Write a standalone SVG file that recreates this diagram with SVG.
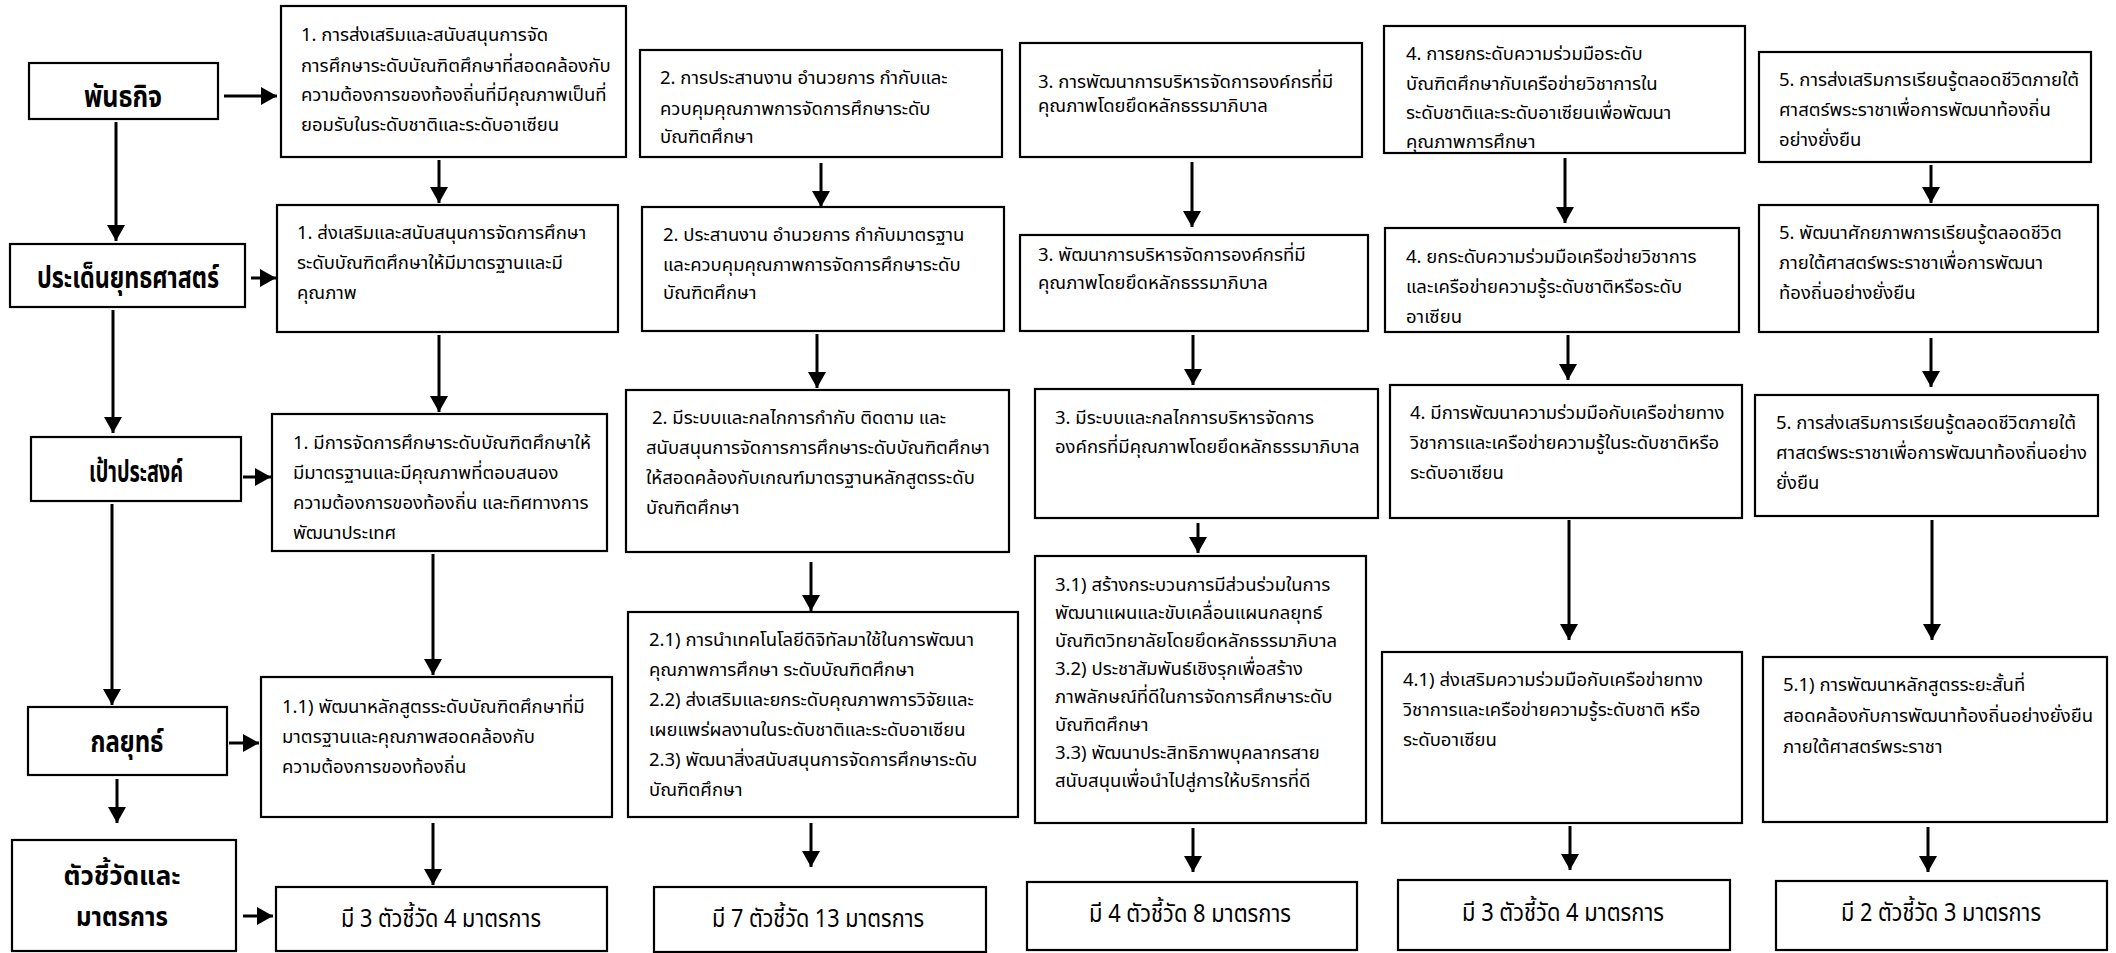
<svg xmlns="http://www.w3.org/2000/svg" width="2116" height="953" viewBox="0 0 2116 953">
<style>
.bg{fill:#fff}
.box{fill:#fff;stroke:#000;stroke-width:2.2}
.t{font-family:"Noto Sans Thai","Noto Sans Thai UI",Tahoma,Loma,Garuda,"Noto Sans","DejaVu Sans",sans-serif;font-size:18.5px;fill:#000}
.lbl{font-family:"Noto Sans Thai","Noto Sans Thai UI",Tahoma,Loma,Garuda,"Noto Sans","DejaVu Sans",sans-serif;font-size:30px;font-weight:bold;fill:#000;text-anchor:middle}
.lbl2{font-family:"Noto Sans Thai","Noto Sans Thai UI",Tahoma,Loma,Garuda,"Noto Sans","DejaVu Sans",sans-serif;font-size:27px;font-weight:bold;fill:#000;text-anchor:middle}
.k{font-family:"Noto Sans Thai","Noto Sans Thai UI",Tahoma,Loma,Garuda,"Noto Sans","DejaVu Sans",sans-serif;font-size:25px;fill:#000;text-anchor:middle}
.arr{stroke:#000;stroke-width:3;fill:none;marker-end:url(#ah)}
</style>
<defs>
<marker id="ah" viewBox="0 0 16 18" refX="16" refY="9" markerWidth="16" markerHeight="18" markerUnits="userSpaceOnUse" orient="auto">
<path d="M0,0 L16,9 L0,18 z" fill="#000"/>
</marker>
</defs>
<rect class="bg" x="0" y="0" width="2116" height="953"/>

<g id="connectors">
<line class="arr" x1="224" y1="96" x2="277" y2="96"/>
<line class="arr" x1="116" y1="122" x2="116" y2="241"/>
<line class="arr" x1="251" y1="278" x2="276" y2="278"/>
<line class="arr" x1="113" y1="310" x2="113" y2="433"/>
<line class="arr" x1="243" y1="477" x2="271" y2="477"/>
<line class="arr" x1="112" y1="504" x2="112" y2="705"/>
<line class="arr" x1="229" y1="743" x2="259" y2="743"/>
<line class="arr" x1="117" y1="779" x2="117" y2="823"/>
<line class="arr" x1="243" y1="916" x2="273" y2="916"/>

<line class="arr" x1="439" y1="160" x2="439" y2="203"/>
<line class="arr" x1="439" y1="335" x2="439" y2="412"/>
<line class="arr" x1="433" y1="554" x2="433" y2="675"/>
<line class="arr" x1="433" y1="823" x2="433" y2="885"/>

<line class="arr" x1="821" y1="163" x2="821" y2="207"/>
<line class="arr" x1="817" y1="334" x2="817" y2="388"/>
<line class="arr" x1="811" y1="562" x2="811" y2="611"/>
<line class="arr" x1="811" y1="823" x2="811" y2="867"/>

<line class="arr" x1="1192" y1="162" x2="1192" y2="227"/>
<line class="arr" x1="1193" y1="335" x2="1193" y2="385"/>
<line class="arr" x1="1198" y1="523" x2="1198" y2="553"/>
<line class="arr" x1="1193" y1="828" x2="1193" y2="872"/>

<line class="arr" x1="1565" y1="158" x2="1565" y2="223"/>
<line class="arr" x1="1568" y1="335" x2="1568" y2="380"/>
<line class="arr" x1="1569" y1="520" x2="1569" y2="640"/>
<line class="arr" x1="1570" y1="826" x2="1570" y2="870"/>

<line class="arr" x1="1931" y1="165" x2="1931" y2="203"/>
<line class="arr" x1="1931" y1="338" x2="1931" y2="387"/>
<line class="arr" x1="1932" y1="520" x2="1932" y2="640"/>
<line class="arr" x1="1928" y1="827" x2="1928" y2="872"/>
</g>

<g id="lbl-mission"><rect class="box" x="29" y="63" width="189" height="56"/><text class="lbl" x="123" y="107" textLength="78" lengthAdjust="spacingAndGlyphs">พันธกิจ</text></g>
<g id="lbl-issue"><rect class="box" x="10" y="244" width="235" height="63"/><text class="lbl" x="128" y="288" textLength="182" lengthAdjust="spacingAndGlyphs">ประเด็นยุทธศาสตร์</text></g>
<g id="lbl-goal"><rect class="box" x="31" y="437" width="210" height="64"/><text class="lbl" x="136" y="482" textLength="94" lengthAdjust="spacingAndGlyphs">เป้าประสงค์</text></g>
<g id="lbl-strategy"><rect class="box" x="28" y="707" width="199" height="68"/><text class="lbl" x="127" y="752" textLength="73" lengthAdjust="spacingAndGlyphs">กลยุทธ์</text></g>
<g id="lbl-kpi"><rect class="box" x="12" y="840" width="224" height="111"/><text class="lbl2" x="122" y="885" textLength="117" lengthAdjust="spacingAndGlyphs">ตัวชี้วัดและ</text><text class="lbl2" x="122" y="926" textLength="92" lengthAdjust="spacingAndGlyphs">มาตรการ</text></g>

<g id="m1"><rect class="box" x="281" y="6" width="345" height="151"/>
<text class="t" x="301" y="41">1. การส่งเสริมและสนับสนุนการจัด</text>
<text class="t" x="301" y="72">การศึกษาระดับบัณฑิตศึกษาที่สอดคล้องกับ</text>
<text class="t" x="301" y="101">ความต้องการของท้องถิ่นที่มีคุณภาพเป็นที่</text>
<text class="t" x="301" y="131">ยอมรับในระดับชาติและระดับอาเซียน</text></g>
<g id="s1"><rect class="box" x="277" y="205" width="341" height="127"/>
<text class="t" x="297" y="239">1. ส่งเสริมและสนับสนุนการจัดการศึกษา</text>
<text class="t" x="297" y="269">ระดับบัณฑิตศึกษาให้มีมาตรฐานและมี</text>
<text class="t" x="297" y="299">คุณภาพ</text></g>
<g id="g1"><rect class="box" x="272" y="414" width="335" height="137"/>
<text class="t" x="293" y="449">1. มีการจัดการศึกษาระดับบัณฑิตศึกษาให้</text>
<text class="t" x="293" y="479">มีมาตรฐานและมีคุณภาพที่ตอบสนอง</text>
<text class="t" x="293" y="509">ความต้องการของท้องถิ่น และทิศทางการ</text>
<text class="t" x="293" y="539">พัฒนาประเทศ</text></g>
<g id="t1"><rect class="box" x="261" y="677" width="351" height="140"/>
<text class="t" x="282" y="713">1.1) พัฒนาหลักสูตรระดับบัณฑิตศึกษาที่มี</text>
<text class="t" x="282" y="743">มาตรฐานและคุณภาพสอดคล้องกับ</text>
<text class="t" x="282" y="773">ความต้องการของท้องถิ่น</text></g>
<g id="k1"><rect class="box" x="276" y="887" width="331" height="64"/>
<text class="k" x="441" y="927" textLength="200" lengthAdjust="spacingAndGlyphs">มี 3 ตัวชี้วัด 4 มาตรการ</text></g>

<g id="m2"><rect class="box" x="640" y="50" width="362" height="107"/>
<text class="t" x="660" y="84">2. การประสานงาน อำนวยการ กำกับและ</text>
<text class="t" x="660" y="115">ควบคุมคุณภาพการจัดการศึกษาระดับ</text>
<text class="t" x="660" y="143">บัณฑิตศึกษา</text></g>
<g id="s2"><rect class="box" x="642" y="207" width="362" height="124"/>
<text class="t" x="663" y="241">2. ประสานงาน อำนวยการ กำกับมาตรฐาน</text>
<text class="t" x="663" y="271">และควบคุมคุณภาพการจัดการศึกษาระดับ</text>
<text class="t" x="663" y="299">บัณฑิตศึกษา</text></g>
<g id="g2"><rect class="box" x="626" y="390" width="383" height="162"/>
<text class="t" x="652" y="424">2. มีระบบและกลไกการกำกับ ติดตาม และ</text>
<text class="t" x="646" y="454">สนับสนุนการจัดการการศึกษาระดับบัณฑิตศึกษา</text>
<text class="t" x="646" y="484">ให้สอดคล้องกับเกณฑ์มาตรฐานหลักสูตรระดับ</text>
<text class="t" x="646" y="514">บัณฑิตศึกษา</text></g>
<g id="t2"><rect class="box" x="628" y="612" width="390" height="205"/>
<text class="t" x="649" y="646">2.1) การนำเทคโนโลยีดิจิทัลมาใช้ในการพัฒนา</text>
<text class="t" x="649" y="676">คุณภาพการศึกษา ระดับบัณฑิตศึกษา</text>
<text class="t" x="649" y="706">2.2) ส่งเสริมและยกระดับคุณภาพการวิจัยและ</text>
<text class="t" x="649" y="736">เผยแพร่ผลงานในระดับชาติและระดับอาเซียน</text>
<text class="t" x="649" y="766">2.3) พัฒนาสิ่งสนับสนุนการจัดการศึกษาระดับ</text>
<text class="t" x="649" y="796">บัณฑิตศึกษา</text></g>
<g id="k2"><rect class="box" x="654" y="887" width="332" height="65"/>
<text class="k" x="818" y="927" textLength="212" lengthAdjust="spacingAndGlyphs">มี 7 ตัวชี้วัด 13 มาตรการ</text></g>

<g id="m3"><rect class="box" x="1020" y="43" width="342" height="114"/>
<text class="t" x="1038" y="88">3. การพัฒนาการบริหารจัดการองค์กรที่มี</text>
<text class="t" x="1038" y="112">คุณภาพโดยยึดหลักธรรมาภิบาล</text></g>
<g id="s3"><rect class="box" x="1020" y="235" width="348" height="96"/>
<text class="t" x="1038" y="261">3. พัฒนาการบริหารจัดการองค์กรที่มี</text>
<text class="t" x="1038" y="289">คุณภาพโดยยึดหลักธรรมาภิบาล</text></g>
<g id="g3"><rect class="box" x="1035" y="389" width="343" height="129"/>
<text class="t" x="1055" y="424">3. มีระบบและกลไกการบริหารจัดการ</text>
<text class="t" x="1055" y="453">องค์กรที่มีคุณภาพโดยยึดหลักธรรมาภิบาล</text></g>
<g id="t3"><rect class="box" x="1035" y="556" width="331" height="267"/>
<text class="t" x="1055" y="591">3.1) สร้างกระบวนการมีส่วนร่วมในการ</text>
<text class="t" x="1055" y="619">พัฒนาแผนและขับเคลื่อนแผนกลยุทธ์</text>
<text class="t" x="1055" y="647">บัณฑิตวิทยาลัยโดยยึดหลักธรรมาภิบาล</text>
<text class="t" x="1055" y="675">3.2) ประชาสัมพันธ์เชิงรุกเพื่อสร้าง</text>
<text class="t" x="1055" y="703">ภาพลักษณ์ที่ดีในการจัดการศึกษาระดับ</text>
<text class="t" x="1055" y="731">บัณฑิตศึกษา</text>
<text class="t" x="1055" y="759">3.3) พัฒนาประสิทธิภาพบุคลากรสาย</text>
<text class="t" x="1055" y="787">สนับสนุนเพื่อนำไปสู่การให้บริการที่ดี</text></g>
<g id="k3"><rect class="box" x="1027" y="882" width="330" height="68"/>
<text class="k" x="1190" y="922" textLength="202" lengthAdjust="spacingAndGlyphs">มี 4 ตัวชี้วัด 8 มาตรการ</text></g>

<g id="m4"><rect class="box" x="1384" y="26" width="361" height="127"/>
<text class="t" x="1406" y="60">4. การยกระดับความร่วมมือระดับ</text>
<text class="t" x="1406" y="90">บัณฑิตศึกษากับเครือข่ายวิชาการใน</text>
<text class="t" x="1406" y="119">ระดับชาติและระดับอาเซียนเพื่อพัฒนา</text>
<text class="t" x="1406" y="148">คุณภาพการศึกษา</text></g>
<g id="s4"><rect class="box" x="1385" y="228" width="354" height="104"/>
<text class="t" x="1406" y="263">4. ยกระดับความร่วมมือเครือข่ายวิชาการ</text>
<text class="t" x="1406" y="293">และเครือข่ายความรู้ระดับชาติหรือระดับ</text>
<text class="t" x="1406" y="323">อาเซียน</text></g>
<g id="g4"><rect class="box" x="1390" y="385" width="352" height="133"/>
<text class="t" x="1410" y="419">4. มีการพัฒนาความร่วมมือกับเครือข่ายทาง</text>
<text class="t" x="1410" y="449">วิชาการและเครือข่ายความรู้ในระดับชาติหรือ</text>
<text class="t" x="1410" y="479">ระดับอาเซียน</text></g>
<g id="t4"><rect class="box" x="1382" y="652" width="360" height="171"/>
<text class="t" x="1403" y="686">4.1) ส่งเสริมความร่วมมือกับเครือข่ายทาง</text>
<text class="t" x="1403" y="716">วิชาการและเครือข่ายความรู้ระดับชาติ หรือ</text>
<text class="t" x="1403" y="746">ระดับอาเซียน</text></g>
<g id="k4"><rect class="box" x="1398" y="880" width="332" height="70"/>
<text class="k" x="1563" y="921" textLength="202" lengthAdjust="spacingAndGlyphs">มี 3 ตัวชี้วัด 4 มาตรการ</text></g>

<g id="m5"><rect class="box" x="1759" y="52" width="332" height="110"/>
<text class="t" x="1779" y="86">5. การส่งเสริมการเรียนรู้ตลอดชีวิตภายใต้</text>
<text class="t" x="1779" y="116">ศาสตร์พระราชาเพื่อการพัฒนาท้องถิ่น</text>
<text class="t" x="1779" y="146">อย่างยั่งยืน</text></g>
<g id="s5"><rect class="box" x="1759" y="205" width="339" height="127"/>
<text class="t" x="1779" y="239">5. พัฒนาศักยภาพการเรียนรู้ตลอดชีวิต</text>
<text class="t" x="1779" y="269">ภายใต้ศาสตร์พระราชาเพื่อการพัฒนา</text>
<text class="t" x="1779" y="299">ท้องถิ่นอย่างยั่งยืน</text></g>
<g id="g5"><rect class="box" x="1755" y="395" width="343" height="121"/>
<text class="t" x="1776" y="429">5. การส่งเสริมการเรียนรู้ตลอดชีวิตภายใต้</text>
<text class="t" x="1776" y="459">ศาสตร์พระราชาเพื่อการพัฒนาท้องถิ่นอย่าง</text>
<text class="t" x="1776" y="489">ยั่งยืน</text></g>
<g id="t5"><rect class="box" x="1763" y="657" width="344" height="165"/>
<text class="t" x="1783" y="691">5.1) การพัฒนาหลักสูตรระยะสั้นที่</text>
<text class="t" x="1783" y="722">สอดคล้องกับการพัฒนาท้องถิ่นอย่างยั่งยืน</text>
<text class="t" x="1783" y="753">ภายใต้ศาสตร์พระราชา</text></g>
<g id="k5"><rect class="box" x="1776" y="881" width="331" height="69"/>
<text class="k" x="1941" y="921" textLength="200" lengthAdjust="spacingAndGlyphs">มี 2 ตัวชี้วัด 3 มาตรการ</text></g>
</svg>
